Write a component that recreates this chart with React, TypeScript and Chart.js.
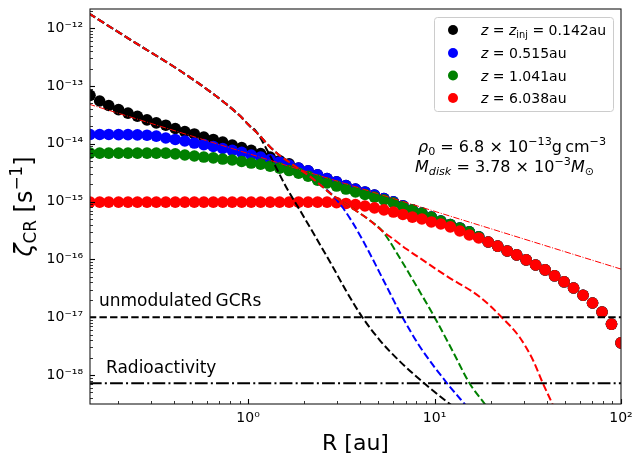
import React, { useEffect, useRef } from 'react';
import { Chart, registerables } from 'chart.js';

Chart.register(...registerables);

// ---------------- data ----------------
const R_AU = [0.142, 0.160, 0.179, 0.202, 0.227, 0.255, 0.287, 0.322, 0.362, 0.407, 0.458, 0.515, 0.579, 0.651, 0.731, 0.822, 0.924, 1.039, 1.168, 1.313, 1.476, 1.660, 1.866, 2.098, 2.359, 2.652, 2.981, 3.351, 3.768, 4.236, 4.762, 5.354, 6.019, 6.767, 7.606, 8.551, 9.614, 10.81, 12.15, 13.66, 15.36, 17.26, 19.41, 21.82, 24.53, 27.57, 31.00, 34.85, 39.18, 44.05, 49.52, 55.67, 62.59, 70.37, 79.11, 88.93, 100.0];

const ZETA_Z0142 = [6.9e-14, 5.5e-14, 4.6e-14, 3.9e-14, 3.4e-14, 3.0e-14, 2.6e-14, 2.3e-14, 2.1e-14, 1.84e-14, 1.63e-14, 1.48e-14, 1.31e-14, 1.19e-14, 1.07e-14, 9.5e-15, 8.6e-15, 7.7e-15, 6.8e-15, 5.9e-15, 5.1e-15, 4.5e-15, 3.8e-15, 3.4e-15, 2.9e-15, 2.5e-15, 2.2e-15, 1.9e-15, 1.65e-15, 1.47e-15, 1.3e-15, 1.13e-15, 9.9e-16, 8.5e-16, 7.2e-16, 6.35e-16, 5.4e-16, 4.6e-16, 4.0e-16, 3.5e-16, 3.0e-16, 2.45e-16, 2.0e-16, 1.7e-16, 1.4e-16, 1.2e-16, 9.8e-17, 8.0e-17, 6.6e-17, 5.2e-17, 4.1e-17, 3.2e-17, 2.4e-17, 1.76e-17, 1.23e-17, 7.6e-18, 3.6e-18];

const ZETA_Z0515 = [1.45e-14, 1.45e-14, 1.45e-14, 1.44e-14, 1.44e-14, 1.43e-14, 1.41e-14, 1.36e-14, 1.26e-14, 1.19e-14, 1.12e-14, 1.03e-14, 9.7e-15, 9.0e-15, 8.3e-15, 7.7e-15, 7.1e-15, 6.4e-15, 5.9e-15, 5.35e-15, 4.85e-15, 4.3e-15, 3.8e-15, 3.4e-15, 2.9e-15, 2.5e-15, 2.2e-15, 1.9e-15, 1.65e-15, 1.47e-15, 1.3e-15, 1.13e-15, 9.9e-16, 8.5e-16, 7.2e-16, 6.35e-16, 5.4e-16, 4.6e-16, 4.0e-16, 3.5e-16, 3.0e-16, 2.45e-16, 2.0e-16, 1.7e-16, 1.4e-16, 1.2e-16, 9.8e-17, 8.0e-17, 6.6e-17, 5.2e-17, 4.1e-17, 3.2e-17, 2.4e-17, 1.76e-17, 1.23e-17, 7.6e-18, 3.6e-18];

const ZETA_Z1041 = [6.9e-15, 6.9e-15, 6.9e-15, 6.9e-15, 6.9e-15, 6.9e-15, 6.9e-15, 6.9e-15, 6.9e-15, 6.7e-15, 6.4e-15, 6.15e-15, 5.9e-15, 5.7e-15, 5.45e-15, 5.25e-15, 4.95e-15, 4.65e-15, 4.45e-15, 4.1e-15, 3.8e-15, 3.45e-15, 3.1e-15, 2.75e-15, 2.35e-15, 2.1e-15, 1.86e-15, 1.65e-15, 1.47e-15, 1.33e-15, 1.2e-15, 1.07e-15, 9.5e-16, 8.2e-16, 7.2e-16, 6.35e-16, 5.4e-16, 4.6e-16, 4.0e-16, 3.5e-16, 3.0e-16, 2.45e-16, 2.0e-16, 1.7e-16, 1.4e-16, 1.2e-16, 9.8e-17, 8.0e-17, 6.6e-17, 5.2e-17, 4.1e-17, 3.2e-17, 2.4e-17, 1.76e-17, 1.23e-17, 7.6e-18, 3.6e-18];

const ZETA_Z6038 = [9.8e-16, 9.8e-16, 9.8e-16, 9.8e-16, 9.8e-16, 9.8e-16, 9.8e-16, 9.8e-16, 9.8e-16, 9.8e-16, 9.8e-16, 9.8e-16, 9.8e-16, 9.8e-16, 9.8e-16, 9.8e-16, 9.8e-16, 9.8e-16, 9.8e-16, 9.8e-16, 9.8e-16, 9.8e-16, 9.8e-16, 9.8e-16, 9.8e-16, 9.8e-16, 9.6e-16, 9.3e-16, 8.9e-16, 8.4e-16, 7.8e-16, 7.2e-16, 6.6e-16, 6.0e-16, 5.4e-16, 5.0e-16, 4.45e-16, 4.1e-16, 3.65e-16, 3.1e-16, 2.65e-16, 2.35e-16, 2.0e-16, 1.7e-16, 1.4e-16, 1.2e-16, 9.8e-17, 8.0e-17, 6.6e-17, 5.2e-17, 4.1e-17, 3.2e-17, 2.4e-17, 1.76e-17, 1.23e-17, 7.6e-18, 3.6e-18];

// model (dashed) curves
const MODEL_K_R = [0.14, 0.244, 0.442, 0.673, 0.895, 1.01, 1.104, 1.297, 1.60, 1.88, 2.32, 2.83, 3.36, 4.10, 5.13, 6.48, 8.84, 12.0, 13.6];
const MODEL_K_ZETA = [1.8e-12, 5.8e-13, 1.75e-13, 6.7e-14, 3.15e-14, 2.11e-14, 1.65e-14, 6.67e-15, 1.79e-15, 7.44e-16, 2.34e-16, 7.69e-17, 2.84e-17, 1.0e-17, 3.87e-18, 1.75e-18, 7.1e-19, 3.2e-19, 2.4e-19];

const MODEL_B_R = [0.14, 0.244, 0.442, 0.673, 0.895, 1.01, 1.146, 1.297, 1.468, 1.66, 1.88, 2.13, 2.41, 2.83, 3.20, 3.62, 4.10, 4.64, 5.38, 6.73, 8.30, 11.6, 14.5, 16.4];
const MODEL_B_ZETA = [1.8e-12, 5.8e-13, 1.75e-13, 6.7e-14, 3.15e-14, 2.11e-14, 1.42e-14, 9.16e-15, 6.4e-15, 4.84e-15, 3.66e-15, 2.77e-15, 2.02e-15, 1.30e-15, 8.07e-16, 4.44e-16, 2.21e-16, 1.04e-16, 4.07e-17, 1.0e-17, 3.18e-18, 7.4e-19, 3.15e-19, 2.0e-19];

const MODEL_G_R = [0.14, 0.244, 0.442, 0.673, 0.895, 1.01, 1.146, 1.297, 1.468, 1.66, 1.88, 2.13, 2.41, 2.83, 3.28, 3.81, 4.47, 5.25, 5.73, 6.25, 7.07, 8.00, 10.0, 12.5, 15.4, 18.6, 19.5];
const MODEL_G_ZETA = [1.8e-12, 5.8e-13, 1.75e-13, 6.7e-14, 3.15e-14, 2.11e-14, 1.42e-14, 9.16e-15, 6.4e-15, 4.84e-15, 3.66e-15, 2.77e-15, 2.02e-15, 1.30e-15, 9.46e-16, 6.88e-16, 4.81e-16, 3.10e-16, 2.08e-16, 1.32e-16, 6.82e-17, 3.47e-17, 1.0e-17, 2.6e-18, 7.2e-19, 3.15e-19, 2.5e-19];

const MODEL_R_R = [0.14, 0.244, 0.442, 0.673, 0.895, 1.01, 1.146, 1.297, 1.468, 1.66, 1.88, 2.13, 2.41, 2.83, 3.28, 3.81, 4.47, 5.25, 6.10, 7.07, 8.32, 11.6, 17.5, 22.9, 28.6, 33.7, 38.1, 42.6, 44.7];
const MODEL_R_ZETA = [1.8e-12, 5.8e-13, 1.75e-13, 6.7e-14, 3.15e-14, 2.11e-14, 1.42e-14, 9.16e-15, 6.4e-15, 4.84e-15, 3.66e-15, 2.77e-15, 2.02e-15, 1.30e-15, 9.46e-16, 6.88e-16, 4.81e-16, 3.10e-16, 2.17e-16, 1.51e-16, 1.06e-16, 5.16e-17, 2.24e-17, 1.0e-17, 4.5e-18, 1.82e-18, 7.2e-19, 3.3e-19, 2.3e-19];

const POWERLAW_R = [0.14, 100];
const POWERLAW_ZETA = [4.86e-14, 6.8e-17];

const GCR_R = [0.14, 100];
const GCR_ZETA = [1e-17, 1e-17];
const RADIO_R = [0.14, 100];
const RADIO_ZETA = [7.2e-19, 7.2e-19];

const X_MIN = 0.142;
const X_MAX = 100;
const Y_MIN = 3.15e-19;
const Y_MAX = 2.15e-12;
const X_DECADES = [0, 1, 2];
const Y_DECADES = [-18, -17, -16, -15, -14, -13, -12];

const SERIES_COLORS = ['#000000', '#0000ff', '#008000', '#ff0000'];
const LEGEND_Z = ['0.142', '0.515', '1.041', '6.038'];

const FONT = "'DejaVu Sans', sans-serif";

// ---------------- helpers ----------------
const SUP: Record<string, string> = { '-': '\u207b', '0': '\u2070', '1': '\u00b9', '2': '\u00b2', '3': '\u00b3', '4': '\u2074', '5': '\u2075', '6': '\u2076', '7': '\u2077', '8': '\u2078', '9': '\u2079' };
const sup = (n: number) => String(n).split('').map((c) => SUP[c] ?? c).join('');

const pts = (xs: number[], ys: number[]) => xs.map((x, i) => ({ x, y: ys[i] }));

type Run = { t: string; s?: number; it?: boolean; dy?: number };

function runsWidth(ctx: CanvasRenderingContext2D, runs: Run[], size: number) {
  let w = 0;
  for (const r of runs) {
    ctx.font = `${r.it ? 'italic ' : ''}${size * (r.s ?? 1)}px ${FONT}`;
    w += ctx.measureText(r.t).width;
  }
  return w;
}

function drawRuns(ctx: CanvasRenderingContext2D, runs: Run[], x: number, y: number, size: number, align: 'left' | 'center' = 'left') {
  let cx = x;
  if (align === 'center') cx = x - runsWidth(ctx, runs, size) / 2;
  ctx.textAlign = 'left';
  ctx.textBaseline = 'alphabetic';
  for (const r of runs) {
    ctx.font = `${r.it ? 'italic ' : ''}${size * (r.s ?? 1)}px ${FONT}`;
    ctx.fillText(r.t, cx, y + (r.dy ?? 0) * size);
    cx += ctx.measureText(r.t).width;
  }
}

const decorPlugin = {
  id: 'decor',
  afterDraw(chart: any) {
    const { ctx, chartArea: a, scales } = chart;
    const xs = scales.x;
    const ys = scales.y;
    ctx.save();
    ctx.fillStyle = '#000';
    ctx.strokeStyle = '#000';

    // inward ticks
    for (let e = -19; e <= -11; e++) {
      for (let m = 1; m <= 9; m++) {
        const v = m * Number('1e' + e);
        if (v < Y_MIN || v > Y_MAX) continue;
        const y = Math.round(ys.getPixelForValue(v)) + 0.5;
        ctx.lineWidth = m === 1 ? 1.1 : 0.8;
        ctx.beginPath();
        ctx.moveTo(a.left, y);
        ctx.lineTo(a.left + (m === 1 ? 5 : 3), y);
        ctx.stroke();
      }
    }
    for (let e = -1; e <= 2; e++) {
      for (let m = 1; m <= 9; m++) {
        const v = m * Number('1e' + e);
        if (v < X_MIN || v > X_MAX) continue;
        const x = Math.round(xs.getPixelForValue(v)) + 0.5;
        ctx.lineWidth = m === 1 ? 1.1 : 0.8;
        ctx.beginPath();
        ctx.moveTo(x, a.bottom);
        ctx.lineTo(x, a.bottom - (m === 1 ? 5 : 3));
        ctx.stroke();
      }
    }

    // frame
    ctx.lineWidth = 1.1;
    ctx.strokeStyle = '#1a1a1a';
    ctx.strokeRect(a.left, a.top, a.right - a.left, a.bottom - a.top);

    // axis titles
    ctx.fillStyle = '#000';
    drawRuns(ctx, [{ t: 'R [au]' }], (a.left + a.right) / 2, 450, 22, 'center');
    ctx.save();
    ctx.translate(32, (a.top + a.bottom) / 2);
    ctx.rotate(-Math.PI / 2);
    drawRuns(ctx, [
      { t: '\u03b6', it: true },
      { t: 'CR', s: 0.7, dy: 0.18 },
      { t: ' [s' },
      { t: '\u2212' + '1', s: 0.7, dy: -0.42 },
      { t: ']' },
    ], 0, 0, 24, 'center');
    ctx.restore();

    // horizontal line labels
    drawRuns(ctx, [{ t: 'unmodulated\u2009GCRs' }], 99, 306, 17);
    drawRuns(ctx, [{ t: 'Radioactivity' }], 106, 373, 17);

    // parameters annotation
    drawRuns(ctx, [
      { t: '\u03c1', it: true },
      { t: '0', s: 0.7, dy: 0.2 },
      { t: ' = 6.8 \u00d7 10' },
      { t: '\u221213', s: 0.7, dy: -0.42 },
      { t: 'g\u2009cm' },
      { t: '\u22123', s: 0.7, dy: -0.42 },
    ], 418, 152, 16);
    drawRuns(ctx, [
      { t: 'M', it: true },
      { t: 'disk', s: 0.7, it: true, dy: 0.2 },
      { t: ' = 3.78 \u00d7 10' },
      { t: '\u22123', s: 0.7, dy: -0.42 },
      { t: 'M', it: true },
      { t: '\u2299', s: 0.7, dy: 0.2 },
    ], 415, 172, 16);

    // legend
    const lx = 434, ly = 17, lw = 179, lh = 94;
    ctx.beginPath();
    ctx.roundRect(lx + 0.5, ly + 0.5, lw, lh, 3);
    ctx.fillStyle = 'rgba(255,255,255,0.8)';
    ctx.fill();
    ctx.strokeStyle = '#cccccc';
    ctx.lineWidth = 1;
    ctx.stroke();
    const rowY = [30, 53, 75.5, 98];
    LEGEND_Z.forEach((z, i) => {
      ctx.fillStyle = SERIES_COLORS[i];
      ctx.beginPath();
      ctx.arc(453, rowY[i], 5, 0, Math.PI * 2);
      ctx.fill();
      ctx.fillStyle = '#000';
      const runs: Run[] = i === 0
        ? [{ t: 'z', it: true }, { t: ' = ' }, { t: 'z', it: true }, { t: 'inj', s: 0.7, dy: 0.2 }, { t: ' = ' + z + 'au' }]
        : [{ t: 'z', it: true }, { t: ' = ' + z + 'au' }];
      drawRuns(ctx, runs, 481, rowY[i] + 5, 14);
    });
    ctx.restore();
  },
};

const tickCb = (decades: number[]) => (value: any) => {
  const v = Number(value);
  const l = Math.log10(v);
  const r = Math.round(l);
  if (Math.abs(l - r) < 1e-6 && decades.includes(r)) return '10' + sup(r);
  return '';
};

export default function App() {
  const ref = useRef<HTMLCanvasElement>(null);

  useEffect(() => {
    document.body.style.margin = '0';
    const canvas = ref.current!;
    const dot = (label: string, ys: number[], color: string, order: number) => ({
      label,
      data: pts(R_AU, ys),
      showLine: false,
      pointRadius: 5.8,
      pointHoverRadius: 5.8,
      pointBorderWidth: 0,
      pointBackgroundColor: color,
      borderColor: color,
      backgroundColor: color,
      clip: 0,
      order,
    });
    const line = (label: string, xs: number[], ys: number[], color: string, width: number, dash: number[], order: number) => ({
      label,
      data: pts(xs, ys),
      showLine: true,
      pointRadius: 0,
      borderColor: color,
      borderWidth: width,
      borderDash: dash,
      cubicInterpolationMode: 'monotone' as const,
      fill: false,
      clip: 0,
      order,
    });

    const chart = new Chart(canvas, {
      type: 'line',
      data: {
        datasets: [
          dot('z=0.142', ZETA_Z0142, SERIES_COLORS[0], 10),
          dot('z=0.515', ZETA_Z0515, SERIES_COLORS[1], 9),
          dot('z=1.041', ZETA_Z1041, SERIES_COLORS[2], 8),
          dot('z=6.038', ZETA_Z6038, SERIES_COLORS[3], 7),
          line('model 0.142', MODEL_K_R, MODEL_K_ZETA, '#000000', 2, [7.4, 3.2], 6),
          line('model 0.515', MODEL_B_R, MODEL_B_ZETA, '#0000ff', 2, [7.4, 3.2], 5),
          line('model 1.041', MODEL_G_R, MODEL_G_ZETA, '#008000', 2, [7.4, 3.2], 4),
          line('model 6.038', MODEL_R_R, MODEL_R_ZETA, '#ff0000', 2, [7.4, 3.2], 3),
          line('power law', POWERLAW_R, POWERLAW_ZETA, '#ff0000', 1, [6.4, 1.6, 1, 1.6], 2),
          line('GCR', GCR_R, GCR_ZETA, '#000000', 2, [7.4, 3.2], 1),
          line('Radioactivity', RADIO_R, RADIO_ZETA, '#000000', 2, [12.8, 3.2, 2, 3.2], 0),
        ],
      },
      options: {
        animation: false,
        responsive: false,
        maintainAspectRatio: false,
        events: [],
        layout: { padding: { left: 0, top: 9, right: 12, bottom: 0 } },
        plugins: { legend: { display: false }, tooltip: { enabled: false } },
        scales: {
          x: {
            type: 'logarithmic',
            min: X_MIN,
            max: X_MAX,
            grid: { display: false, drawTicks: false },
            border: { display: false },
            ticks: {
              autoSkip: false,
              maxRotation: 0,
              padding: 6,
              color: '#000',
              font: { family: FONT, size: 14 },
              callback: tickCb(X_DECADES),
            },
            afterBuildTicks: (s: any) => {
              s.ticks = X_DECADES.map((e) => ({ value: Number('1e' + e) }));
            },
            afterFit: (s: any) => {
              s.height = 50;
              s.paddingLeft = 0;
              s.paddingRight = 0;
            },
          },
          y: {
            type: 'logarithmic',
            min: Y_MIN,
            max: Y_MAX,
            grid: { display: false, drawTicks: false },
            border: { display: false },
            ticks: {
              autoSkip: false,
              padding: 7,
              color: '#000',
              font: { family: FONT, size: 14 },
              callback: tickCb(Y_DECADES),
            },
            afterBuildTicks: (s: any) => {
              s.ticks = Y_DECADES.map((e) => ({ value: Number('1e' + e) }));
            },
            afterFit: (s: any) => {
              s.width = 90;
              s.paddingTop = 0;
              s.paddingBottom = 0;
            },
          },
        },
      },
      plugins: [decorPlugin],
    });
    return () => chart.destroy();
  }, []);

  return (
    <div style={{ width: 633, height: 454, position: 'relative' }}>
      <canvas ref={ref} width={633} height={454} style={{ display: 'block' }} />
    </div>
  );
}
